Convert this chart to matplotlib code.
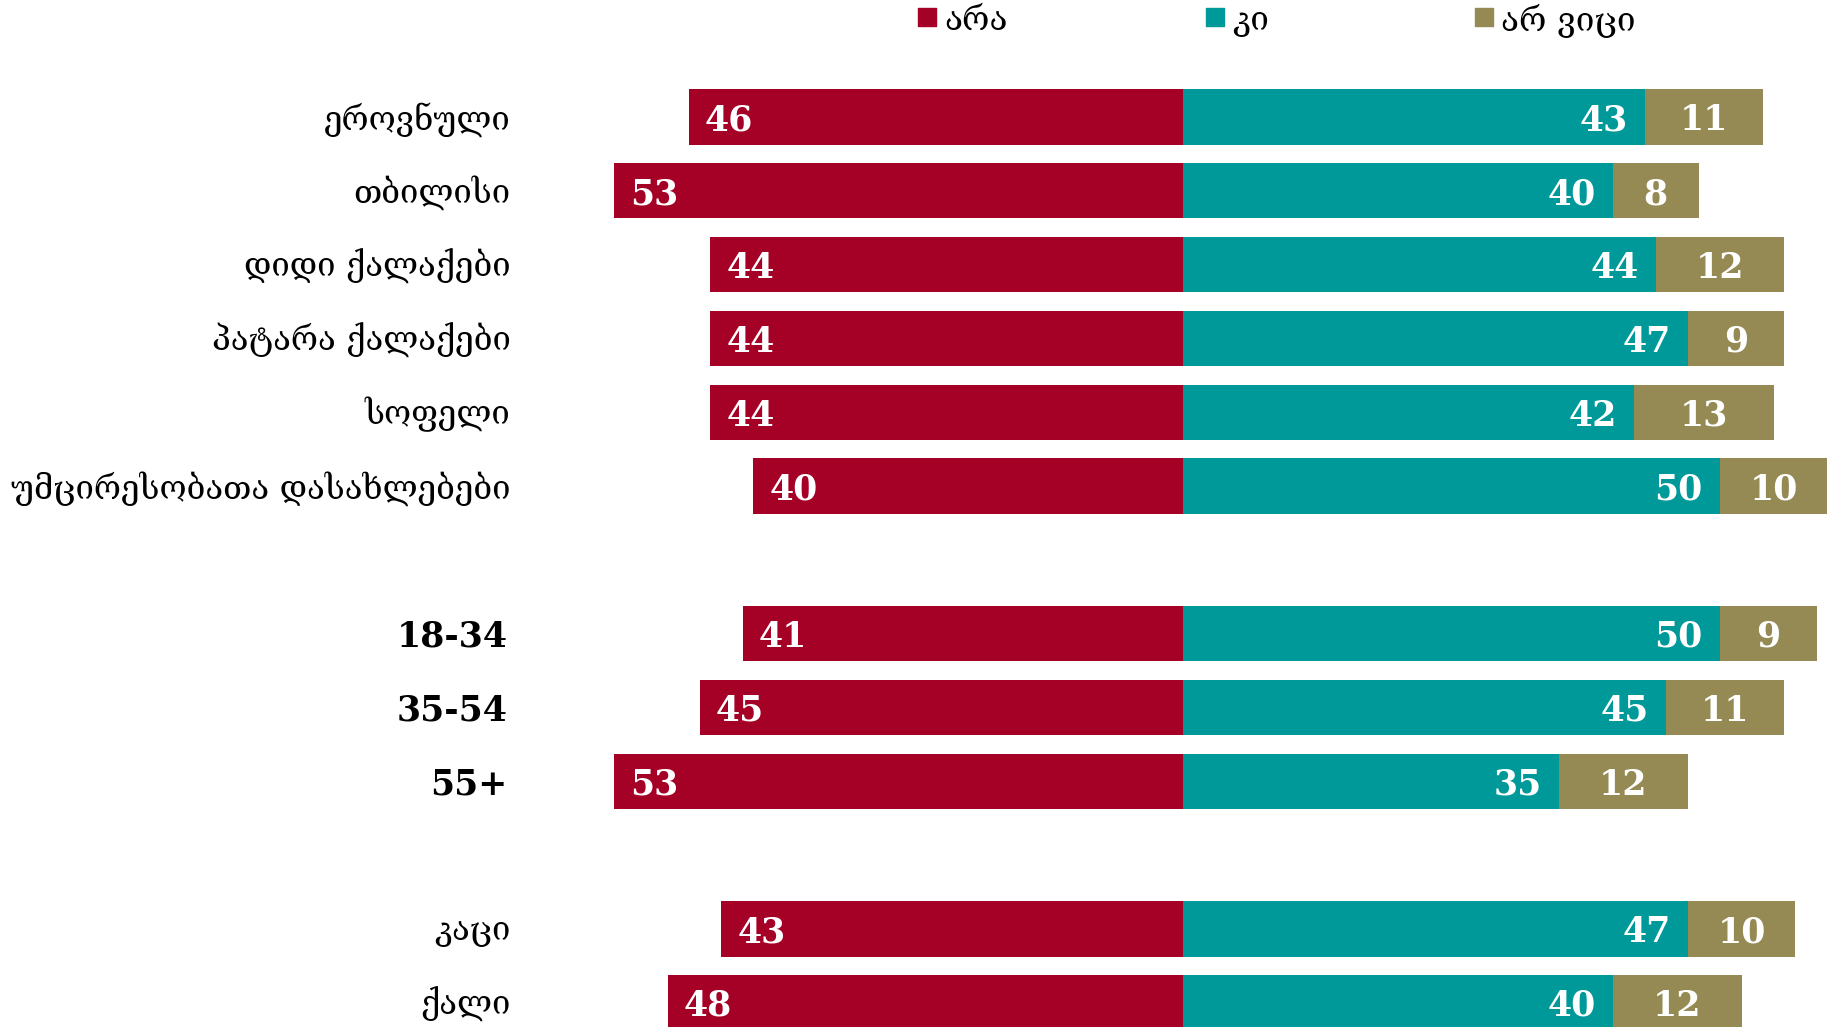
import matplotlib
matplotlib.use("Agg")
import matplotlib.pyplot as plt

categories = ["ეროვნული", "თბილისი", "დიდი ქალაქები", "პატარა ქალაქები", "სოფელი",
              "უმცირესობათა დასახლებები", "18-34", "35-54", "55+", "კაცი", "ქალი"]
no_vals = [46, 53, 44, 44, 44, 40, 41, 45, 53, 43, 48]
yes_vals = [43, 40, 44, 47, 42, 50, 50, 45, 35, 47, 40]
dk_vals = [11, 8, 12, 9, 13, 10, 9, 11, 12, 10, 12]
series_names = ["არა", "კი", "არ ვიცი"]
colors = ["#A50026", "#009999", "#958A54"]

rows = [0, 1, 2, 3, 4, 5, 7, 8, 9, 11, 12]

fig = plt.figure(figsize=(18.37, 10.27), dpi=100)
ax = fig.add_axes([0, 0, 1, 1])
ax.set_xlim(-110.15, 60.89)
ax.set_ylim(12.33, -1.585)
ax.axis("off")

h = 0.75
serif = ["DejaVu Serif"]
dy = 0.045
for i, y in enumerate(rows):
    n, yv, d = no_vals[i], yes_vals[i], dk_vals[i]
    ax.barh(y, -n, left=0, height=h, color=colors[0])
    ax.barh(y, yv, left=0, height=h, color=colors[1])
    ax.barh(y, d, left=yv, height=h, color=colors[2])
    ax.text(-n + 1.5, y + dy, str(n), ha="left", va="center", color="white",
            fontsize=25, fontweight="bold", family=serif)
    ax.text(yv - 1.6, y + dy, str(yv), ha="right", va="center", color="white",
            fontsize=25, fontweight="bold", family=serif)
    ax.text(yv + d / 2, y + dy, str(d), ha="center", va="center", color="white",
            fontsize=25, fontweight="bold", family=serif)
    lab = categories[i]
    is_age = lab[0].isdigit()
    ax.text(-62.9 if is_age else -62.6, y + (dy if is_age else 0.03), lab,
            ha="right", va="center", color="black",
            fontsize=25 if is_age else 23.7, fontweight="bold" if is_age else "normal",
            family=serif)

# legend
leg_x = [-23.8, 3.0, 28.0]
for name, c, lx in zip(series_names, colors, leg_x):
    ax.scatter([lx], [-1.35], marker="s", s=160, color=c)
    ax.text(lx + 1.6, -1.3, name, ha="left", va="center", fontsize=24, family=serif)

fig.savefig("out.png", dpi=100)
